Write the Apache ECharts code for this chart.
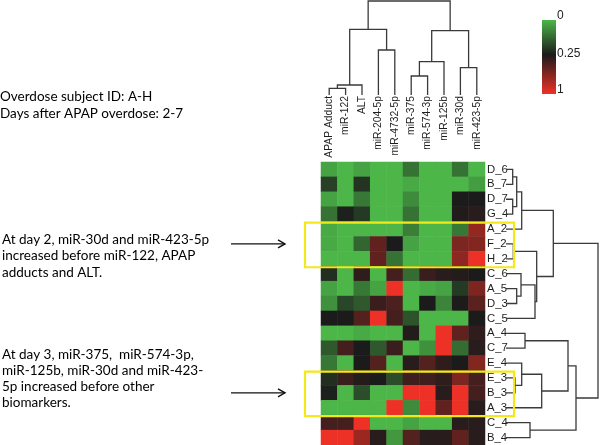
<!DOCTYPE html>
<html><head><meta charset="utf-8">
<script src="https://cdn.jsdelivr.net/npm/echarts@6/dist/echarts.min.js"></script>
<style>html,body{margin:0;padding:0;background:#fff}#c{width:601px;height:445px}</style>
</head><body><div id="c"></div>
<script>
// ---- data ----
const columns = ['APAP Adduct','miR-122','ALT','miR-204-5p','miR-4732-5p','miR-375','miR-574-3p','miR-125b','miR-30d','miR-423-5p'];
const rows = ['D_6','B_7','D_7','G_4','A_2','F_2','H_2','C_6','A_5','D_3','C_5','A_4','C_7','E_4','E_3','B_3','A_3','C_4','B_4'];
const D_6 = [0.03,0,0.03,0,0,0.11,0,0,0.11,0];
const B_7 = [0.19,0,0.21,0,0,0.02,0,0,0,0.04];
const D_7 = [0.03,0,0.10,0,0,0.07,0,0,0.25,0.25];
const G_4 = [0.11,0.24,0.20,0,0,0.11,0,0,0.27,0.30];
const A_2 = [0.02,0,0,0,0,0.09,0,0,0.10,0.68];
const F_2 = [0.02,0,0.13,0.50,0.25,0.03,0,0,0.60,0.62];
const H_2 = [0,0,0,0.50,0.11,0,0,0,0.66,1];
const C_6 = [0.22,0,0.32,0,0.40,0.12,0.36,0.30,0.28,0.25];
const A_5 = [0.03,0,0.10,0.03,1,0,0.02,0.03,0.20,0.60];
const D_3 = [0.06,0.18,0.15,0.36,0.42,0,0.25,0.08,0.26,0.48];
const C_5 = [0.25,0.25,0.45,1,0.40,0.16,0,0,0,0.25];
const A_4 = [0,0,0.02,0,0,0.28,0,1,0.50,0.32];
const C_7 = [0.15,0.40,0.25,0.15,0.36,0,0.06,1,0.12,0.30];
const E_4 = [0.10,0,0.25,0.45,0,0.30,0.45,0.32,0.25,0.62];
const E_3 = [0.22,0.36,0.28,0.25,0.17,0.38,0.38,0.32,0.60,0.40];
const B_3 = [0.24,0,0.17,0,0,1,1,0.30,1,0.40];
const A_3 = [0,0,0,0,1,0.07,1,0.50,1,0.30];
const C_4 = [0.40,0.40,1,0,0,0.03,0,0,0.30,0.30];
const B_4 = [1,1,0.70,0.30,0.05,0.45,0.30,0.30,0.50,0.30];
const matrix = [D_6,B_7,D_7,G_4,A_2,F_2,H_2,C_6,A_5,D_3,C_5,A_4,C_7,E_4,E_3,B_3,A_3,C_4,B_4];
// linkage: [childA, childB, height]; leaves 0..n-1, clusters n+k
const colLinkage = [[0,1,6.7],[10,2,10],[3,4,45],[11,12,65.7],[5,6,19],[14,7,33.3],[8,9,27.3],[15,16,64.3],[13,17,94]];
const rowLinkage = [[0,1,6.7],[2,3,6.7],[19,20,10.7],[21,4,15.7],[5,6,7.3],[8,9,10.7],[7,24,15],[25,10,29],[23,26,30.7],[22,27,47.3],
  [11,12,19],[14,15,9],[13,30,15.7],[31,16,35.7],[29,32,62],[17,18,24],[33,34,70],[28,35,92]];
const colorTicks = ['0','0.25','1'];
const highlightRows = [[4,6],[14,16]];
const notes = ['Overdose subject ID: A-H\nDays after APAP overdose: 2-7',
  'At day 2, miR-30d and miR-423-5p\nincreased before miR-122, APAP\nadducts and ALT.',
  'At day 3, miR-375,  miR-574-3p,\nmiR-125b, miR-30d and miR-423-\n5p increased before other\nbiomarkers.'];

// ---- build ----
const GREEN = '#4cb648', BLACK = '#1b1b1b', RED = '#ee3126';
function mix(a,b,t){const pa=[1,3,5].map(i=>parseInt(a.substr(i,2),16)),pb=[1,3,5].map(i=>parseInt(b.substr(i,2),16));
  return 'rgb('+pa.map((v,i)=>Math.round(v+(pb[i]-v)*t)).join(',')+')';}
const heatData = [];
matrix.forEach((r,ri)=>r.forEach((v,ci)=>heatData.push([ci,ri,v])));
function dendro(linkage,n){const pos=[],h=[];for(let i=0;i<n;i++){pos[i]=i+0.5;h[i]=0;}
  const segs=[];linkage.forEach(([a,b,ht],k)=>{const id=n+k;pos[id]=(pos[a]+pos[b])/2;h[id]=ht;segs.push([pos[a],h[a],pos[b],h[b],ht]);});return segs;}
const colSegs = dendro(colLinkage, columns.length);
const rowSegs = dendro(rowLinkage, rows.length);
const lineStyle = {stroke:'#3a3a3a', lineWidth:1.3, fill:null};
const FAM = 'Arial, "Liberation Sans"';

const chart = echarts.init(document.getElementById('c'));
const option = {
  animation:false,
  backgroundColor:'#fff',
  grid:[
    {left:321,right:116,top:162,bottom:0},
    {left:321,right:116,top:1,bottom:350},
    {left:506,right:0,top:162,bottom:0}
  ],
  xAxis:[
    {type:'category',gridIndex:0,data:columns,position:'top',show:false},
    {type:'value',gridIndex:1,min:0,max:columns.length,show:false,position:'top'},
    {type:'value',gridIndex:2,min:0,max:95,show:false},
    {type:'category',gridIndex:1,data:columns,position:'bottom',axisLine:{show:false},axisTick:{show:false},
      axisLabel:{rotate:90,margin:1,interval:0,fontFamily:FAM,fontSize:10.3,color:'#1e1e1e'}}
  ],
  yAxis:[
    {type:'category',gridIndex:0,data:rows,inverse:true,position:'right',axisLine:{show:false},axisTick:{show:false},
      axisLabel:{margin:2,interval:0,fontFamily:FAM,fontSize:11.3,color:'#1e1e1e'}},
    {type:'value',gridIndex:1,min:0,max:94,show:false},
    {type:'value',gridIndex:2,min:0,max:rows.length,inverse:true,show:false}
  ],
  visualMap:{show:false,type:'continuous',min:0,max:1,seriesIndex:0,
    inRange:{color:[GREEN,BLACK,mix(BLACK,RED,1/3),mix(BLACK,RED,2/3),RED]}},
  series:[
    {type:'heatmap',xAxisIndex:0,yAxisIndex:0,data:heatData,itemStyle:{borderWidth:0}},
    {type:'custom',xAxisIndex:1,yAxisIndex:1,data:colSegs,clip:false,encode:{x:[0,2],y:[1,3,4]},
      renderItem:(p,api)=>{const pa=api.value(0),ha=api.value(1),pb=api.value(2),hb=api.value(3),h=api.value(4);
        return {type:'polyline',shape:{points:[api.coord([pa,ha]),api.coord([pa,h]),api.coord([pb,h]),api.coord([pb,hb])]},style:lineStyle};}},
    {type:'custom',xAxisIndex:2,yAxisIndex:2,data:rowSegs,clip:false,encode:{y:[0,2],x:[1,3,4]},
      renderItem:(p,api)=>{const pa=api.value(0),ha=api.value(1),pb=api.value(2),hb=api.value(3),h=api.value(4);
        return {type:'polyline',shape:{points:[api.coord([ha,pa]),api.coord([h,pa]),api.coord([h,pb]),api.coord([hb,pb])]},style:lineStyle};}}
  ]
};
chart.setOption(option);

// annotations
const c0 = chart.convertToPixel({gridIndex:0},[0,0]);
const c1 = chart.convertToPixel({gridIndex:0},[0,1]);
const rh = c1[1]-c0[1];
const g = [];
highlightRows.forEach(([a,b])=>{
  const top = chart.convertToPixel({gridIndex:0},[0,a])[1]-rh/2;
  const bot = chart.convertToPixel({gridIndex:0},[0,b])[1]+rh/2;
  g.push({type:'rect',shape:{x:305,y:top+1,width:209,height:bot-top},style:{fill:null,stroke:'#f3e81a',lineWidth:2.2},z:10});
  const yc = (top+bot)/2;
  g.push({type:'line',shape:{x1:231,y1:yc,x2:285,y2:yc},style:{stroke:'#111',lineWidth:1.4}});
  g.push({type:'polyline',shape:{points:[[278,yc-4],[285,yc],[278,yc+4]]},style:{stroke:'#111',lineWidth:1.4,fill:null}});
});
const NF = '13.5px Lato, "Open Sans", sans-serif';
g.push({type:'text',left:0,top:88,style:{text:notes[0],font:NF,fill:'#000',lineHeight:17}});
g.push({type:'text',left:2,top:231,style:{text:notes[1],font:NF,fill:'#000',lineHeight:16.5}});
g.push({type:'text',left:2,top:347,style:{text:notes[2],font:NF,fill:'#000',lineHeight:16}});
// colour key
g.push({type:'rect',shape:{x:542,y:20,width:14,height:74},style:{fill:new echarts.graphic.LinearGradient(0,0,0,1,[
  {offset:0,color:GREEN},{offset:0.47,color:BLACK},{offset:1,color:RED}])}});
const tickY = [16,54,90];
colorTicks.forEach((t,i)=>g.push({type:'text',x:557,y:tickY[i],style:{text:t,font:'12px Arial, "Liberation Sans"',fill:'#222',verticalAlign:'middle'}}));
chart.setOption({graphic:g});
</script></body></html>
